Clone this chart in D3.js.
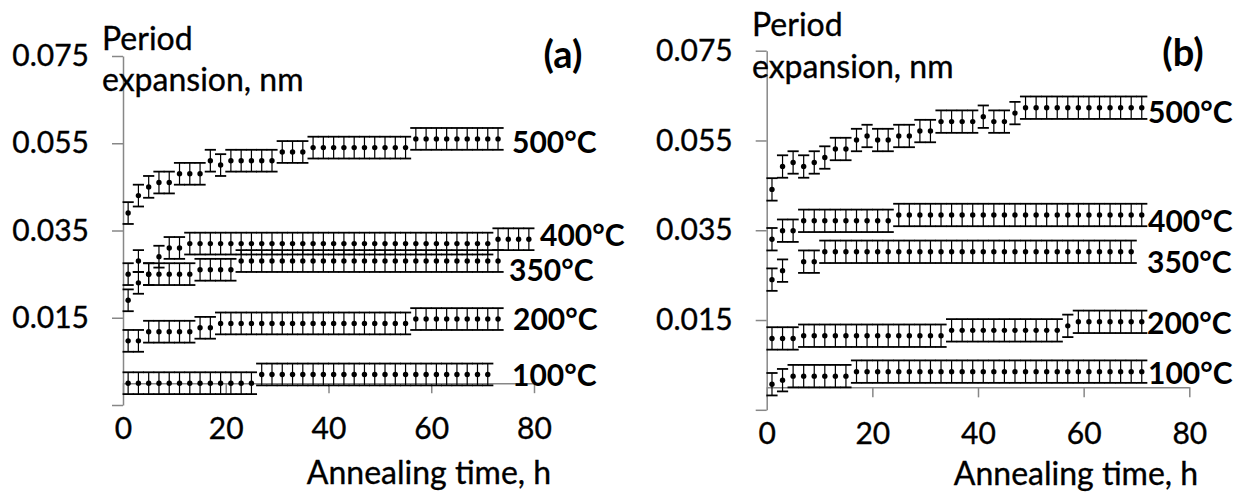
<!DOCTYPE html>
<html>
<head>
<meta charset="utf-8">
<script src="https://cdn.jsdelivr.net/npm/d3@7"></script>
<style>
  html, body { margin: 0; padding: 0; background: #fff; }
  svg { display: block; font-family: Lato, "Open Sans", sans-serif; }
  .txt { stroke: #000; stroke-width: 0.35px; }
</style>
</head>
<body>
<svg id="chart" width="1240" height="492"></svg>
<script>
// ---- Data: period expansion (nm) vs annealing time (h), error ±0.0025 nm ----
const errorHalf = 0.0025;

const yTicks = [-0.005, 0.015, 0.035, 0.055, 0.075];
const yTickLabels = ["", "0.015", "0.035", "0.055", "0.075"];
const xTicks = [0, 20, 40, 60, 80];
const xTickLabels = ["0", "20", "40", "60", "80"];
const seriesNames = ["100°C", "200°C", "350°C", "400°C", "500°C"];

// Panel (a)
const hoursA100 = [1,3,5,7,9,11,13,15,17,19,21,23,25,27,29,31,33,35,37,39,41,43,45,47,49,51,53,55,57,59,61,63,65,67,69,71];
const valuesA100 = [0,0,0,0,0,0,0,0,0,0,0,0,0,0.002,0.002,0.002,0.002,0.002,0.002,0.002,0.002,0.002,0.002,0.002,0.002,0.002,0.002,0.002,0.002,0.002,0.002,0.002,0.002,0.002,0.002,0.002];
const hoursA200 = [1,3,5,7,9,11,13,15,17,19,21,23,25,27,29,31,33,35,37,39,41,43,45,47,49,51,53,55,57,59,61,63,65,67,69,71,73];
const valuesA200 = [0.0097,0.0097,0.0118,0.0118,0.0118,0.0118,0.0118,0.0127,0.0127,0.0137,0.0137,0.0137,0.0137,0.0137,0.0137,0.0137,0.0137,0.0137,0.0137,0.0137,0.0137,0.0137,0.0137,0.0137,0.0137,0.0137,0.0137,0.0137,0.0147,0.0147,0.0147,0.0147,0.0147,0.0147,0.0147,0.0147,0.0147];
const hoursA350 = [1,3,5,7,9,11,13,15,17,19,21,23,25,27,29,31,33,35,37,39,41,43,45,47,49,51,53,55,57,59,61,63,65,67,69,71,73];
const valuesA350 = [0.019,0.023,0.025,0.025,0.025,0.025,0.025,0.026,0.026,0.026,0.026,0.028,0.028,0.028,0.028,0.028,0.028,0.028,0.028,0.028,0.028,0.028,0.028,0.028,0.028,0.028,0.028,0.028,0.028,0.028,0.028,0.028,0.028,0.028,0.028,0.028,0.028];
const hoursA400 = [1,3,5,7,9,11,13,15,17,19,21,23,25,27,29,31,33,35,37,39,41,43,45,47,49,51,53,55,57,59,61,63,65,67,69,71,73,75,77,79];
const valuesA400 = [0.025,0.028,0.025,0.029,0.031,0.031,0.032,0.032,0.032,0.032,0.032,0.032,0.032,0.032,0.032,0.032,0.032,0.032,0.032,0.032,0.032,0.032,0.032,0.032,0.032,0.032,0.032,0.032,0.032,0.032,0.032,0.032,0.032,0.032,0.032,0.032,0.033,0.033,0.033,0.033];
const hoursA500 = [1,3,5,7,9,11,13,15,17,19,21,23,25,27,29,31,33,35,37,39,41,43,45,47,49,51,53,55,57,59,61,63,65,67,69,71,73];
const valuesA500 = [0.039,0.043,0.045,0.046,0.046,0.048,0.048,0.048,0.051,0.050,0.051,0.051,0.051,0.051,0.051,0.053,0.053,0.053,0.054,0.054,0.054,0.054,0.054,0.054,0.054,0.054,0.054,0.054,0.056,0.056,0.056,0.056,0.056,0.056,0.056,0.056,0.056];

// Panel (b)
const hoursB100 = [1,3,5,7,9,11,13,15,17,19,21,23,25,27,29,31,33,35,37,39,41,43,45,47,49,51,53,55,57,59,61,63,65,67,69,71];
const valuesB100 = [0.0007,0.0016,0.0025,0.0025,0.0025,0.0025,0.0025,0.0025,0.0035,0.0035,0.0035,0.0035,0.0035,0.0035,0.0035,0.0035,0.0035,0.0035,0.0035,0.0035,0.0035,0.0035,0.0035,0.0035,0.0035,0.0035,0.0035,0.0035,0.0035,0.0035,0.0035,0.0035,0.0035,0.0035,0.0035,0.0035];
const hoursB200 = [1,3,5,7,9,11,13,15,17,19,21,23,25,27,29,31,33,35,37,39,41,43,45,47,49,51,53,55,57,59,61,63,65,67,69,71];
const valuesB200 = [0.0109,0.0109,0.0109,0.0115,0.0115,0.0115,0.0115,0.0115,0.0115,0.0115,0.0115,0.0115,0.0115,0.0115,0.0115,0.0115,0.0115,0.0127,0.0127,0.0127,0.0127,0.0127,0.0127,0.0127,0.0127,0.0127,0.0127,0.0127,0.0137,0.0146,0.0146,0.0146,0.0146,0.0146,0.0146,0.0146];
const hoursB350 = [1,3,7,9,11,13,15,17,19,21,23,25,27,29,31,33,35,37,39,41,43,45,47,49,51,53,55,57,59,61,63,65,67,69];
const valuesB350 = [0.024,0.026,0.028,0.028,0.0302,0.0302,0.0302,0.0302,0.0302,0.0302,0.0302,0.0302,0.0302,0.0302,0.0302,0.0302,0.0302,0.0302,0.0302,0.0302,0.0302,0.0302,0.0302,0.0302,0.0302,0.0302,0.0302,0.0302,0.0302,0.0302,0.0302,0.0302,0.0302,0.0302];
const hoursB400 = [1,3,5,7,9,11,13,15,17,19,21,23,25,27,29,31,33,35,37,39,41,43,45,47,49,51,53,55,57,59,61,63,65,67,69,71];
const valuesB400 = [0.033,0.0349,0.0349,0.0371,0.0371,0.0371,0.0371,0.0371,0.0371,0.0371,0.0371,0.0371,0.0384,0.0384,0.0384,0.0384,0.0384,0.0384,0.0384,0.0384,0.0384,0.0384,0.0384,0.0384,0.0384,0.0384,0.0384,0.0384,0.0384,0.0384,0.0384,0.0384,0.0384,0.0384,0.0384,0.0384];
const hoursB500 = [1,3,5,7,9,11,13,15,17,19,21,23,25,27,29,31,33,35,37,39,41,43,45,47,49,51,53,55,57,59,61,63,65,67,69,71];
const valuesB500 = [0.0441,0.0492,0.0501,0.0492,0.0501,0.0512,0.0531,0.0531,0.0551,0.056,0.0551,0.0551,0.056,0.056,0.0571,0.0571,0.0592,0.0592,0.0592,0.0592,0.0603,0.0592,0.0592,0.0611,0.0623,0.0623,0.0623,0.0623,0.0623,0.0623,0.0623,0.0623,0.0623,0.0623,0.0623,0.0623];

// ---- Layout ----
const FONT = 30;        // tick labels and series labels
const TITLE_FONT = 32;  // axis titles
const AXIS_GREY = "#878787";

const panels = [
  {
    tag: "(a)", tagPos: [563, 68],
    x0: 123, x1: 534, yTop: 56, yBottom: 405,
    ylabel: [102, 50, 91],
    xTitle: [429, 484],
    series: [
      [hoursA100, valuesA100], [hoursA200, valuesA200], [hoursA350, valuesA350],
      [hoursA400, valuesA400], [hoursA500, valuesA500]
    ],
    labelPos: [[512, 375], [513, 319], [509, 270], [540, 235], [512, 142]]
  },
  {
    tag: "(b)", tagPos: [1183, 66],
    x0: 766.7, x1: 1189.3, yTop: 50.7, yBottom: 409.8,
    ylabel: [752, 36, 78],
    xTitle: [1076, 485],
    series: [
      [hoursB100, valuesB100], [hoursB200, valuesB200], [hoursB350, valuesB350],
      [hoursB400, valuesB400], [hoursB500, valuesB500]
    ],
    labelPos: [[1148, 373], [1147, 323], [1147, 262], [1148, 221], [1148, 112]]
  }
];

const svg = d3.select("#chart");

panels.forEach(p => {
  const x = d3.scaleLinear().domain([0, 80]).range([p.x0, p.x1]);
  const y = d3.scaleLinear().domain([-0.005, 0.075]).range([p.yBottom, p.yTop]);
  const g = svg.append("g");

  // vertical axis
  const yAxis = d3.axisLeft(y)
    .tickValues(yTicks)
    .tickSize(11)
    .tickSizeOuter(0)
    .tickPadding(23)
    .tickFormat((d, i) => yTickLabels[i]);
  const ya = g.append("g").attr("transform", `translate(${p.x0},0)`).call(yAxis);
  ya.select(".domain").attr("stroke", AXIS_GREY).attr("stroke-width", 1.5);
  ya.selectAll(".tick line").attr("stroke", AXIS_GREY).attr("stroke-width", 1.5);
  ya.selectAll(".tick text").attr("class", "txt").attr("font-size", FONT).attr("font-family", "Lato").attr("fill", "#000");

  // horizontal axis crossing at zero
  const xAxis = d3.axisBottom(x)
    .tickValues(xTicks)
    .tickSize(10)
    .tickSizeOuter(0)
    .tickPadding(25)
    .tickFormat((d, i) => xTickLabels[i]);
  const xa = g.append("g").attr("transform", `translate(0,${y(0)})`).call(xAxis);
  xa.select(".domain").attr("stroke", AXIS_GREY).attr("stroke-width", 1.5);
  xa.selectAll(".tick line").attr("stroke", AXIS_GREY).attr("stroke-width", 1.5);
  xa.selectAll(".tick text").attr("class", "txt").attr("font-size", FONT).attr("font-family", "Lato").attr("fill", "#000");

  // series: error bars with caps and dot markers
  p.series.forEach(([hours, vals], si) => {
    const pts = hours.map((h, i) => ({ h, v: vals[i] }));
    const sg = g.append("g");
    sg.selectAll("line.stem").data(pts).join("line")
      .attr("class", "stem")
      .attr("x1", d => x(d.h)).attr("x2", d => x(d.h))
      .attr("y1", d => y(d.v - errorHalf)).attr("y2", d => y(d.v + errorHalf))
      .attr("stroke", "#000").attr("stroke-width", 1.2);
    ["lo", "hi"].forEach(side => {
      sg.selectAll(`line.cap-${side}`).data(pts).join("line")
        .attr("class", `cap-${side}`)
        .attr("x1", d => x(d.h) - 5.6).attr("x2", d => x(d.h) + 5.6)
        .attr("y1", d => y(side === "lo" ? d.v - errorHalf : d.v + errorHalf))
        .attr("y2", d => y(side === "lo" ? d.v - errorHalf : d.v + errorHalf))
        .attr("stroke", "#000").attr("stroke-width", 1.8);
    });
    sg.selectAll("circle").data(pts).join("circle")
      .attr("cx", d => x(d.h)).attr("cy", d => y(d.v))
      .attr("r", 2.7).attr("fill", "#000");

    const [lx, ly] = p.labelPos[si];
    g.append("text")
      .attr("x", lx).attr("y", ly).attr("dy", "0.36em")
      .attr("font-size", FONT).attr("font-weight", "bold")
      .text(seriesNames[si]);
  });

  // axis titles
  const yl = g.append("text").attr("class", "txt").attr("font-size", TITLE_FONT);
  yl.append("tspan").attr("x", p.ylabel[0]).attr("y", p.ylabel[1]).text("Period");
  yl.append("tspan").attr("x", p.ylabel[0]).attr("y", p.ylabel[2]).text("expansion, nm");

  g.append("text")
    .attr("class", "txt")
    .attr("x", p.xTitle[0]).attr("y", p.xTitle[1])
    .attr("text-anchor", "middle").attr("font-size", TITLE_FONT)
    .text("Annealing time, h");

  // panel tag
  g.append("text")
    .attr("x", p.tagPos[0]).attr("y", p.tagPos[1])
    .attr("text-anchor", "middle").attr("font-size", 38).attr("font-weight", "bold")
    .text(p.tag);
});
</script>
</body>
</html>
